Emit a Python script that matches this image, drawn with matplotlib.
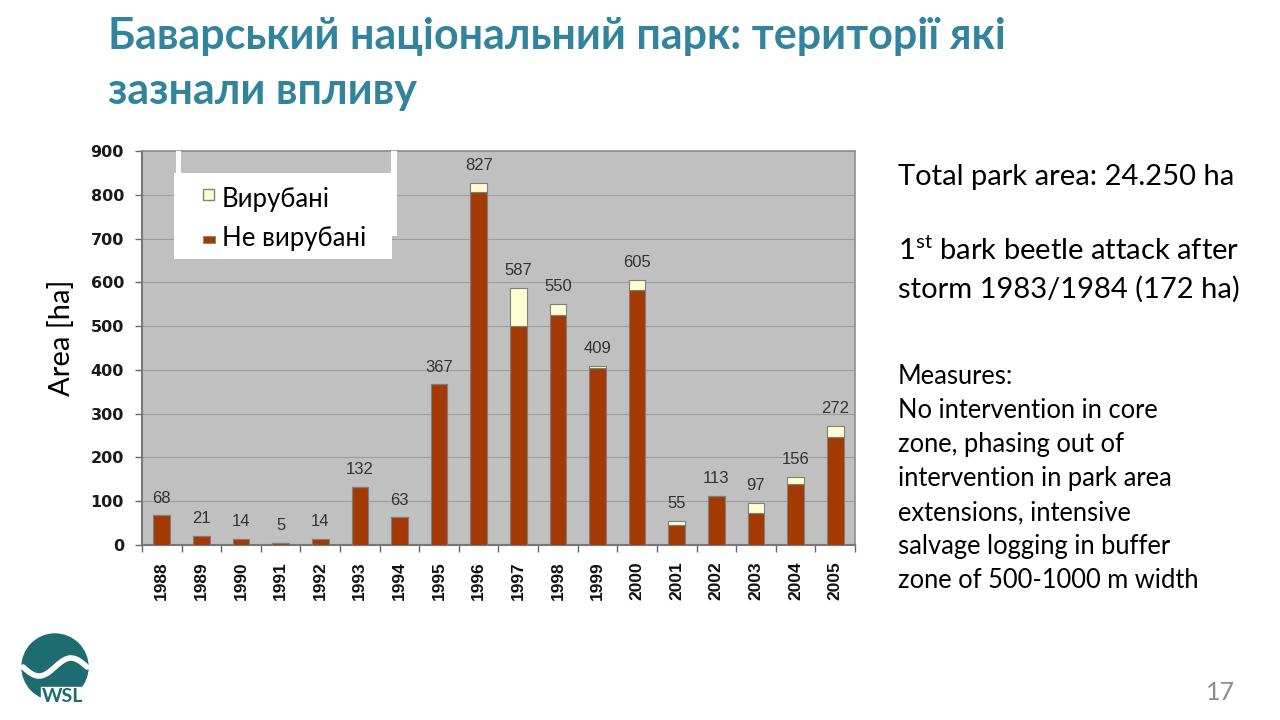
import numpy as np
import matplotlib
matplotlib.use("Agg")
import matplotlib.pyplot as plt
from matplotlib.patches import Rectangle, Circle

# data
years = [str(y) for y in range(1988, 2006)]
not_cut = [68, 21, 14, 5, 14, 132, 63, 367, 807, 501, 525, 404, 582, 46, 113, 72, 139, 246]
cut = [0, 0, 0, 0, 0, 0, 0, 0, 20, 86, 25, 5, 23, 9, 0, 25, 17, 26]
y_ticks = list(range(0, 1000, 100))

title_lines = ["Баварський національний парк: території які", "зазнали впливу"]
legend_labels = ["Вирубані", "Не вирубані"]
measures_lines = ["Measures:", "No intervention in core", "zone, phasing out of",
                  "intervention in park area", "extensions, intensive",
                  "salvage logging in buffer", "zone of 500-1000 m width"]

W, H = 1280, 720
TEAL = "#31849B"
BROWN = "#A33A04"
CREAM = "#FFFFD2"
plt.rcParams["mathtext.fontset"] = "custom"
plt.rcParams["mathtext.rm"] = "Lato"

fig = plt.figure(figsize=(12.8, 7.2), dpi=100)
fig.patch.set_facecolor("white")


def fx(px):
    return px / W


def fy(py):
    return 1 - py / H


# title
fig.text(fx(108), fy(49), title_lines[0], family="Lato", weight="bold", fontsize=31,
         color=TEAL, va="baseline")
fig.text(fx(108), fy(104), title_lines[1], family="Lato", weight="bold", fontsize=31,
         color=TEAL, va="baseline")

# chart
ax = fig.add_axes([fx(142), fy(545), (855 - 142) / W, (545 - 151) / H])
ax.set_facecolor("#C0C0C0")
x = np.arange(len(years))
totals = [a + b for a, b in zip(not_cut, cut)]
ax.bar(x, not_cut, width=0.42, color=BROWN, edgecolor="#7f7f7f", linewidth=0.8, zorder=3)
ax.bar(x, cut, bottom=not_cut, width=0.42, color=CREAM, edgecolor="#7f7f7f",
       linewidth=0.8, zorder=3)
for xi, t in zip(x, totals):
    ax.annotate(str(t), (xi, t), xytext=(0, 7), textcoords="offset points",
                ha="center", va="bottom", fontsize=12, color="#333333",
                family="Liberation Sans")

ax.set_xlim(-0.5, len(years) - 0.5)
ax.set_ylim(0, 900)
ax.set_yticks(y_ticks)
ax.set_yticklabels([str(v) for v in y_ticks], fontsize=11.5, weight="bold",
                   family="DejaVu Sans", color="#1a1a1a")
ax.set_xticks(x)
ax.set_xticklabels(years, rotation=90, fontsize=12.5, weight="bold",
                   family="Liberation Sans", color="#111111")
ax.set_xticks(np.arange(-0.5, len(years), 1), minor=True)
ax.tick_params(axis="x", which="major", length=0, pad=12)
ax.tick_params(axis="x", which="minor", length=5, color="#666666", width=1)
ax.tick_params(axis="y", length=5, color="#666666", width=1, pad=8)
ax.grid(axis="y", color="#9c9c9c", linewidth=0.8, zorder=0)
ax.set_axisbelow(True)
for s in ["left", "bottom"]:
    ax.spines[s].set_color("#777777")
    ax.spines[s].set_linewidth(1.5)
for s in ["top", "right"]:
    ax.spines[s].set_color("#8f8f8f")
    ax.spines[s].set_linewidth(1.2)

# legend box (white panel pasted over the plot)
fig.patches.append(Rectangle((fx(174), fy(259)), (392 - 174) / W, (259 - 173) / H,
                             transform=fig.transFigure, facecolor="white",
                             edgecolor="none", zorder=5))
fig.patches.append(Rectangle((fx(176), fy(176)), 5 / W, 25 / H,
                             transform=fig.transFigure, facecolor="white",
                             edgecolor="none", zorder=5))
fig.patches.append(Rectangle((fx(391), fy(236)), 6 / W, 85 / H,
                             transform=fig.transFigure, facecolor="white",
                             edgecolor="none", zorder=5))
fig.patches.append(Rectangle((fx(203), fy(200)), 11 / W, 11 / H,
                             transform=fig.transFigure, facecolor=CREAM,
                             edgecolor="#808080", linewidth=1, zorder=6))
fig.patches.append(Rectangle((fx(203), fy(243)), 12 / W, 7 / H,
                             transform=fig.transFigure, facecolor=BROWN,
                             edgecolor="#808080", linewidth=0.6, zorder=6))
fig.text(fx(222), fy(199), legend_labels[0], family="Lato", fontsize=18.5,
         va="center", zorder=7)
fig.text(fx(222), fy(239), legend_labels[1], family="Lato", fontsize=18.5,
         va="center", zorder=7)

# y label
fig.text(fx(62), fy(338), "Area [ha]", family="Lato", fontsize=21, rotation=90,
         ha="center", va="center")

# right-side text
fig.text(fx(898), fy(185), "Total park area: 24.250 ha", family="Lato", fontsize=21,
         va="baseline")
fig.text(fx(898), fy(260), r"1$^{\mathrm{st}}$ bark beetle attack after", family="Lato",
         fontsize=21, va="baseline")
fig.text(fx(898), fy(298), "storm 1983/1984 (172 ha)", family="Lato", fontsize=21,
         va="baseline")
for i, line in enumerate(measures_lines):
    fig.text(fx(898), fy(384 + 34 * i), line, family="Lato", fontsize=18.4, va="baseline")

# page number
fig.text(fx(1235), fy(692), "17", family="Lato", fontsize=18, color="#8c8c8c",
         ha="right", va="center")

# logo
lax = fig.add_axes([fx(15), fy(712), 85 / W, 85 / H])
lax.set_xlim(0, 85)
lax.set_ylim(0, 85)
lax.set_aspect("equal")
lax.axis("off")
lax.add_patch(Circle((40, 45), 33, color="#1E6B70"))
t = np.linspace(8, 72, 100)
lax.plot(t, 45 + 9 * np.sin((t - 8) / 64 * 2 * np.pi + np.pi), color="white", lw=4,
         solid_capstyle="round")
lax.add_patch(Rectangle((26, 8), 50, 17, color="white"))
lax.text(48, 15, "WSL", family="Lato", weight="bold", fontsize=14, color="#1E6B70",
         ha="center", va="center")

fig.savefig("out.png", dpi=100)
